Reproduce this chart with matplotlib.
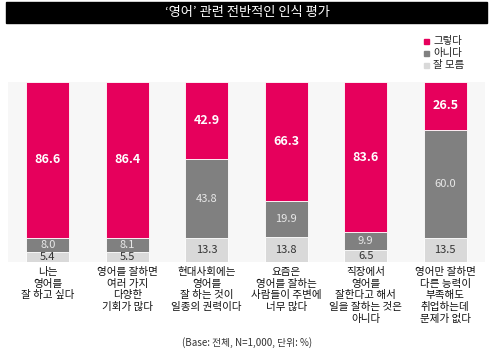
import matplotlib
matplotlib.use("Agg")
from matplotlib import pyplot as plt
from matplotlib.patches import Rectangle

plt.rcParams['font.family'] = ['Noto Sans CJK KR', 'DejaVu Sans']

categories = ["나는\n영어를\n잘 하고 싶다",
              "영어를 잘하면\n여러 가지\n다양한\n기회가 많다",
              "현대사회에는\n영어를\n잘 하는 것이\n일종의 권력이다",
              "요즘은\n영어를 잘하는\n사람들이 주변에\n너무 많다",
              "직장에서\n영어를\n잘한다고 해서\n일을 잘하는 것은\n아니다",
              "영어만 잘하면\n다른 능력이\n부족해도\n취업하는데\n문제가 없다"]
yes_vals = [86.6, 86.4, 42.9, 66.3, 83.6, 26.5]
no_vals = [8.0, 8.1, 43.8, 19.9, 9.9, 60.0]
dunno_vals = [5.4, 5.5, 13.3, 13.8, 6.5, 13.5]
series_names = ["그렇다", "아니다", "잘 모름"]

pink = "#E6005C"
dark = "#808080"
light = "#D9D9D9"

fig = plt.figure(figsize=(4.94, 3.55), dpi=100)
ax = fig.add_axes([8/494, 1 - 262/355, 477/494, 180/355])
ax.set_facecolor("#F7F7F7")

x = list(range(len(categories)))
w = 0.54
ax.bar(x, dunno_vals, w, color=light, edgecolor="white", linewidth=0.6)
ax.bar(x, no_vals, w, bottom=dunno_vals, color=dark, edgecolor="white", linewidth=0.6)
bot2 = [a + b for a, b in zip(dunno_vals, no_vals)]
ax.bar(x, yes_vals, w, bottom=bot2, color=pink, edgecolor="white", linewidth=0.6)

for i in x:
    ax.text(i, dunno_vals[i] / 2, "%.1f" % dunno_vals[i], ha="center", va="center",
            fontsize=8, color="#333333")
    ax.text(i, dunno_vals[i] + no_vals[i] / 2, "%.1f" % no_vals[i], ha="center", va="center",
            fontsize=8, color="#E8E8E8")
    ax.text(i, bot2[i] + yes_vals[i] / 2, "%.1f" % yes_vals[i], ha="center", va="center",
            fontsize=9, color="white", fontweight="bold")
    # category label, one line at a time (CJK font line spacing is unreliable)
    for j, line in enumerate(categories[i].split("\n")):
        ax.annotate(line, xy=(i, 0), xycoords="data",
                    xytext=(0, -(10 + 11.7 * j) * 0.72), textcoords="offset points",
                    ha="center", va="center", fontsize=7.6, color="#111111")

ax.set_xlim(-0.5, 5.5)
ax.set_ylim(0, 100)
ax.set_xticks([])
ax.set_yticks([])
for s in ax.spines.values():
    s.set_visible(False)

# title bar
fig.patches.append(Rectangle((6/494, 1 - 23/355), 481/494, 21/355,
                             transform=fig.transFigure, color="black"))
fig.text(0.5, 1 - 12.5/355, "‘영어’ 관련 전반적인 인식 평가", ha="center", va="center",
         color="white", fontsize=9.5)

# legend
leg_colors = [pink, dark, light]
for k, name in enumerate(series_names):
    yy = 1 - (41 + 12 * k) / 355
    fig.patches.append(Rectangle((424/494, yy - 2.5/355), 5/494, 5/355,
                                 transform=fig.transFigure, color=leg_colors[k]))
    fig.text(433/494, yy, name, ha="left", va="center", fontsize=7.5, color="#222222")

fig.text(0.5, 1 - 343/355, "(Base: 전체, N=1,000, 단위: %)", ha="center", va="center",
         fontsize=7, color="#333333")

fig.savefig("out.png", dpi=100)
